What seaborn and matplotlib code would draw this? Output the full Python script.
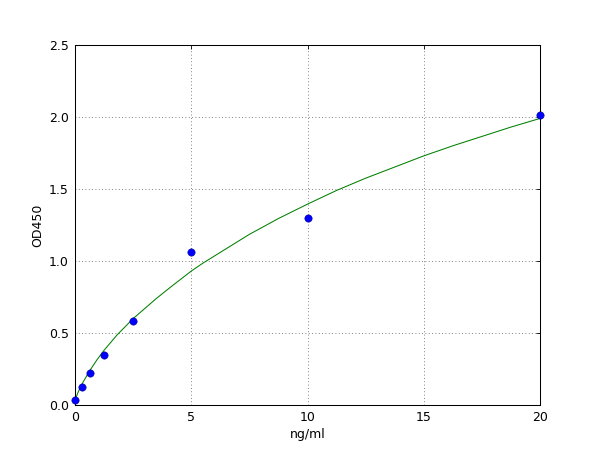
import pandas as pd
import matplotlib
matplotlib.use("Agg")
import matplotlib.pyplot as plt
import seaborn as sns

# Standard points (concentration vs OD)
conc = [0, 0.3125, 0.625, 1.25, 2.5, 5, 10, 20]
od = [0.035, 0.127, 0.222, 0.346, 0.581, 1.06, 1.298, 2.015]

# Fitted curve
curve_x = [0, 0.15, 0.3, 0.6, 0.95, 1.25, 1.8, 2.5, 3.5, 4.2, 5, 5.5, 6, 7.5, 8.75,
           10, 11.25, 12.5, 15, 16.25, 17.5, 18.75, 20]
curve_y = [0.035, 0.095, 0.145, 0.23, 0.315, 0.38, 0.485, 0.60, 0.74, 0.83, 0.93, 0.985,
           1.035, 1.185, 1.295, 1.395, 1.49, 1.575, 1.73, 1.80, 1.865, 1.93, 1.99]

x_ticks = [0, 5, 10, 15, 20]
y_ticks = [0.0, 0.5, 1.0, 1.5, 2.0, 2.5]

sns.set_style("white")
plt.rcParams['font.family'] = ['DejaVu Sans']
plt.rcParams['text.color'] = 'k'
plt.rcParams['axes.labelcolor'] = 'k'
plt.rcParams['xtick.color'] = 'k'
plt.rcParams['ytick.color'] = 'k'

points = pd.DataFrame({'conc': conc, 'od': od})
curve = pd.DataFrame({'x': curve_x, 'y': curve_y})

fig = plt.figure(figsize=(8, 6), dpi=75)
ax = fig.add_axes([0.125, 0.1, 0.775, 0.8])

sns.lineplot(data=curve, x='x', y='y', color='#008000', linewidth=1.0, ax=ax, zorder=2)
sns.scatterplot(data=points, x='conc', y='od', color='#0000ff', edgecolor='#00008b',
                linewidth=0.5, s=50, ax=ax, zorder=3, clip_on=False)

ax.set_xlim(0, 20)
ax.set_ylim(0, 2.5)
ax.set_xticks(x_ticks)
ax.set_yticks(y_ticks)
ax.set_xticklabels([str(t) for t in x_ticks])
ax.set_yticklabels([f"{t:.1f}" for t in y_ticks])
ax.grid(True, color='0.35', linestyle=(0, (1, 3)), linewidth=0.8)
ax.tick_params(direction='in', length=4, width=0.8, labelsize=12,
               top=True, right=True, pad=6)
for sp in ax.spines.values():
    sp.set_color('k')
    sp.set_linewidth(1.0)

ax.set_xlabel("ng/ml", fontsize=12)
ax.set_ylabel("OD450", fontsize=12)

fig.savefig("out.png", dpi=75, facecolor='white')
